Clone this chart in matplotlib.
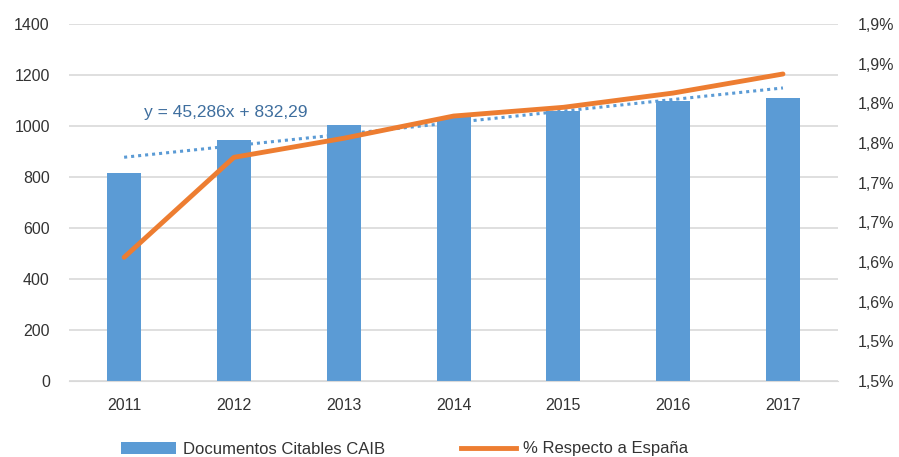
import matplotlib.pyplot as plt
from matplotlib.ticker import FixedLocator, FuncFormatter
from matplotlib.lines import Line2D
from matplotlib.patches import Patch

years = ["2011", "2012", "2013", "2014", "2015", "2016", "2017"]
documentos = [816, 945, 1004, 1035, 1059, 1098, 1110]
pct_espana = [1.606, 1.732, 1.756, 1.784, 1.795, 1.813, 1.837]
trend_slope = 45.286
trend_intercept = 832.29
left_ticks = [0, 200, 400, 600, 800, 1000, 1200, 1400]
right_ticks = [1.45, 1.50, 1.55, 1.60, 1.65, 1.70, 1.75, 1.80, 1.85, 1.90]

plt.rcParams['font.family'] = ['Liberation Sans', 'DejaVu Sans']

fig = plt.figure(figsize=(8.99, 4.57), dpi=100)
ax = fig.add_axes([0.077, 0.166, 0.855, 0.7815])
ax2 = ax.twinx()

x = list(range(len(years)))
blue = '#5B9BD5'
orange = '#ED7D31'
txt = '#333333'

ax.bar(x, documentos, width=0.31, color=blue, zorder=2)
trend = [trend_slope * (i + 1) + trend_intercept for i in x]
ax.plot(x, trend, linestyle=(0, (1, 1.3)), color=blue, linewidth=2.2, zorder=3)
ax.text(0.18, 1055, "y = 45,286x + 832,29", color='#3E6E9E', fontsize=12.5,
        ha='left', va='center', zorder=5)

ax2.plot(x, pct_espana, color=orange, linewidth=3.5, solid_capstyle='round', zorder=4)

ax.set_xlim(-0.5, 6.5)
ax.set_ylim(0, 1400)
ax2.set_ylim(1.45, 1.90)
ax.yaxis.set_major_locator(FixedLocator(left_ticks))
ax2.yaxis.set_major_locator(FixedLocator(right_ticks))
ax2.yaxis.set_major_formatter(FuncFormatter(
    lambda v, p: ("%.1f%%" % (int(v * 10 + 0.5 + 1e-9) / 10)).replace('.', ',')))

ax.set_xticks(x)
ax.set_xticklabels(years)
ax.grid(axis='y', color='#D9D9D9', linewidth=1.2, zorder=0)
ax.set_axisbelow(True)

for a in (ax, ax2):
    for s in a.spines.values():
        s.set_visible(False)
    a.tick_params(length=0, labelsize=11.5, colors=txt)
ax.spines['bottom'].set_visible(True)
ax.spines['bottom'].set_color('#D9D9D9')
ax.tick_params(axis='x', pad=12)
ax.tick_params(axis='y', pad=14)
ax2.tick_params(axis='y', pad=14)

handles = [Patch(facecolor=blue), Line2D([0], [0], color=orange, linewidth=3.5)]
fig.legend(handles, ["Documentos Citables CAIB", "% Respecto a España"],
           loc='center left', bbox_to_anchor=(121 / 899, 1 - 449 / 457), ncol=2,
           frameon=False, fontsize=12, handlelength=3.3, columnspacing=4.6,
           handletextpad=0.4, borderpad=0, borderaxespad=0, labelcolor=txt)

fig.savefig("out.png", dpi=100)
